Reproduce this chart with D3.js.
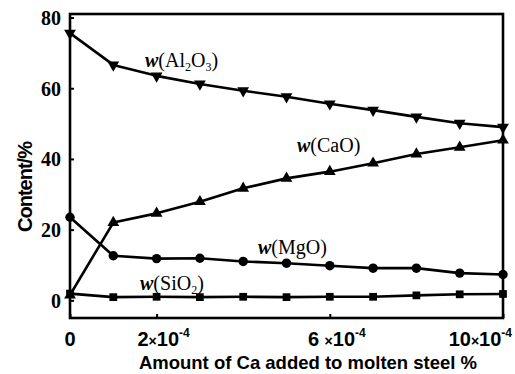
<!DOCTYPE html>
<html>
<head>
<meta charset="utf-8">
<script src="https://cdn.jsdelivr.net/npm/d3@7"></script>
<style>
  body { margin: 0; background: #fff; }
  svg { display: block; }
</style>
</head>
<body>
<svg id="chart" width="515" height="374"></svg>
<script>
// Ca addition, units of 1e-4 %
var caAdded = [0, 1, 2, 3, 4, 5, 6, 7, 8, 9, 10];
var al2o3 = [75.6, 66.6, 63.5, 61.2, 59.3, 57.6, 55.6, 53.8, 51.9, 50.1, 49.0];
var cao = [1.5, 22.0, 24.6, 27.9, 31.7, 34.5, 36.4, 38.8, 41.4, 43.3, 45.3];
var mgo = [23.5, 12.6, 11.8, 11.9, 11.0, 10.5, 9.8, 9.1, 9.1, 7.7, 7.3];
var sio2 = [1.9, 0.9, 1.0, 0.9, 1.0, 0.9, 1.0, 1.0, 1.4, 1.7, 1.8];
var yTicks = [0, 20, 40, 60, 80];
var xTicks = [0, 2, 6, 10];

var svg = d3.select("#chart");
var x = d3.scaleLinear().domain([0, 10]).range([70, 503]);
var y = d3.scaleLinear().domain([-5, 81]).range([318, 14]);

// frame
svg.append("rect")
	.attr("x", x(0)).attr("y", y(81))
	.attr("width", x(10) - x(0)).attr("height", y(-5) - y(81))
	.attr("fill", "none").attr("stroke", "#000").attr("stroke-width", 2.6);

// y ticks
var yAxis = d3.axisLeft(y).tickValues(yTicks).tickSize(-4).tickPadding(9).tickSizeOuter(0);
var gy = svg.append("g").attr("transform", "translate(" + x(0) + ",0)").call(yAxis);
gy.select(".domain").remove();
gy.selectAll("line").attr("stroke-width", 2);
gy.selectAll("text")
	.attr("font-family", "Liberation Serif, Times New Roman, serif")
	.attr("font-weight", "bold").attr("font-size", 20)
	.attr("fill", "#000").attr("dy", "0.34em");

// x ticks (labels drawn separately below, they carry ×10^-4)
var xAxis = d3.axisBottom(x).tickValues(xTicks).tickSize(-4).tickFormat("").tickSizeOuter(0);
var gx = svg.append("g").attr("transform", "translate(0," + y(-5) + ")").call(xAxis);
gx.select(".domain").remove();
gx.selectAll("line").attr("stroke-width", 2);

var xl = svg.append("g")
	.attr("font-family", "Liberation Sans, Arial, sans-serif")
	.attr("font-weight", "bold").attr("fill", "#000");
xTicks.forEach(function(t) {
	var tx = xl.append("text").attr("y", 346).attr("font-size", 20);
	if (t === 0) {
		tx.attr("x", x(t)).attr("text-anchor", "middle").text("0");
		return;
	}
	if (t === 10) tx.attr("x", 512).attr("text-anchor", "end");
	else tx.attr("x", x(t) + 7).attr("text-anchor", "middle");
	tx.append("tspan").text(t === 6 ? t + " " : t);
	tx.append("tspan").attr("font-size", 14).text("×");
	tx.append("tspan").text("10");
	tx.append("tspan").attr("font-size", 12).attr("dy", -9).text("-4");
});

// axis titles
svg.append("text")
	.attr("x", 308).attr("y", 369).attr("text-anchor", "middle")
	.attr("font-family", "Liberation Sans, Arial, sans-serif")
	.attr("font-weight", "bold").attr("font-size", 18.5)
	.text("Amount of Ca added to molten steel %");

svg.append("text")
	.attr("transform", "translate(32,187) rotate(-90)")
	.attr("text-anchor", "middle")
	.attr("font-family", "Liberation Sans, Arial, sans-serif")
	.attr("font-weight", "bold").attr("font-size", 20)
	.attr("letter-spacing", -1)
	.text("Content/%");

// series
var series = [
	{ values: al2o3, symbol: d3.symbolTriangle, rot: 180, size: 60 },
	{ values: cao, symbol: d3.symbolTriangle, rot: 0, size: 60 },
	{ values: mgo, symbol: d3.symbolCircle, rot: 0, size: 70 },
	{ values: sio2, symbol: d3.symbolSquare, rot: 0, size: 60 }
];

var line = d3.line()
	.x(function(d, i) { return x(caAdded[i]); })
	.y(function(d) { return y(d); });

series.forEach(function(s) {
	svg.append("path")
		.attr("d", line(s.values))
		.attr("fill", "none").attr("stroke", "#000")
		.attr("stroke-width", 2.6).attr("stroke-linejoin", "round");
	svg.append("g").selectAll("path")
		.data(s.values)
		.enter()
		.append("path")
		.attr("d", d3.symbol().type(s.symbol).size(s.size))
		.attr("transform", function(d, i) {
			return "translate(" + x(caAdded[i]) + "," + y(d) + ") rotate(" + s.rot + ")";
		})
		.attr("fill", "#000");
});

// series labels
var labels = [
	{ x: 145, y: 67, parts: [["(Al", 0], ["2", 1], ["O", 0], ["3", 1], [")", 0]] },
	{ x: 297, y: 152, parts: [["(CaO)", 0]] },
	{ x: 258, y: 254, parts: [["(MgO)", 0]] },
	{ x: 140, y: 290, parts: [["(SiO", 0], ["2", 1], [")", 0]] }
];
labels.forEach(function(l) {
	var t = svg.append("text")
		.attr("x", l.x).attr("y", l.y)
		.attr("font-family", "Liberation Serif, Times New Roman, serif")
		.attr("font-size", 20).attr("fill", "#000");
	t.append("tspan").attr("font-style", "italic").attr("font-weight", "bold").text("w");
	l.parts.forEach(function(p) {
		var sp = t.append("tspan").text(p[0]);
		if (p[1]) sp.attr("font-size", 12).attr("dy", 4);
		else if (sp.node().previousSibling && sp.node().previousSibling.getAttribute("dy") == 4) sp.attr("dy", -4);
	});
});
</script>
</body>
</html>
